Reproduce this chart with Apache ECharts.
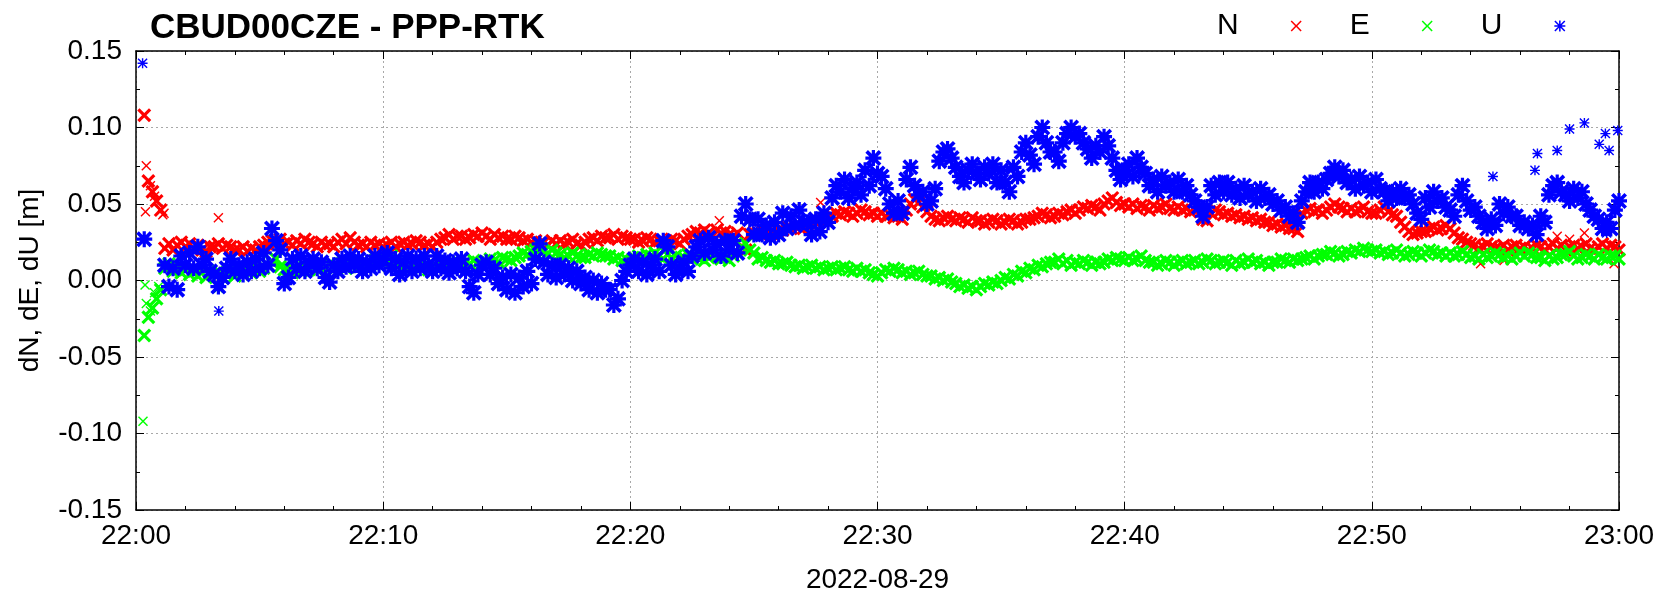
<!DOCTYPE html>
<html>
<head>
<meta charset="utf-8">
<title>CBUD00CZE - PPP-RTK</title>
<script src="https://cdn.jsdelivr.net/npm/echarts@6/dist/echarts.min.js"></script>
<style>
  html, body { margin: 0; padding: 0; background: #fff; }
  #chart { width: 1665px; height: 599px; }
</style>
</head>
<body>
<div id="chart"></div>
<script>
// epochs every 10 s after 22:00:00, offsets in mm (one row = one minute)
var stepSec = 10;
var tickLabels = ["22:00", "22:10", "22:20", "22:30", "22:40", "22:50", "23:00"];

var dN = [
  null, 108, 65, 58, 52, 46,   21, 24, 20, 23, 25, 22,   24, 21, 23, 20, 19, 22,
  22, 24, 21, 23, 22, 20,      20, 22, 19, 21, 20, 22,   23, 25, 26, 24, 27, 24,
  25, 23, 26, 24, 27, 25,      24, 22, 25, 23, 24, 22,   25, 27, 24, 28, 25, 23,
  24, 22, 25, 23, 24, 22,      23, 25, 22, 24, 25, 23,   24, 26, 25, 23, 24, 22,
  25, 27, 28, 30, 27, 29,      29, 27, 28, 30, 29, 31,   29, 27, 30, 28, 29, 27,
  27, 29, 28, 26, 27, 25,      26, 24, 25, 23, 26, 24,   26, 24, 25, 27, 24, 23,
  25, 27, 28, 26, 29, 28,      28, 30, 27, 29, 28, 27,   27, 25, 26, 28, 27, 25,
  26, 24, 25, 27, 26, 24,      27, 29, 30, 32, 31, 33,   31, 29, 33, 31, 32, 30,
  29, 31, 22, 20, 30, 31,      31, 33, 32, 30, 31, 33,   33, 35, 34, 36, 35, 34,
  36, 37, 38, 39, 40, 41,      42, 44, 43, 45, 44, 42,   44, 46, 45, 43, 44, 42,
  44, 42, 43, 41, 42, 40,      46, 50, 53, 51, 48, 45,   42, 40, 39, 41, 42, 40,
  39, 41, 40, 38, 41, 39,      39, 37, 38, 40, 39, 37,   38, 40, 39, 37, 38, 40,
  40, 41, 42, 44, 43, 41,      42, 44, 43, 45, 46, 44,   46, 48, 47, 49, 48, 46,
  50, 52, 54, 51, 49, 50,      48, 50, 47, 49, 48, 46,   49, 47, 48, 50, 47, 46,
  48, 46, 47, 45, 46, 47,      40, 39, 44, 46, 45, 43,   44, 42, 43, 41, 42, 40,
  41, 39, 40, 38, 38, 36,      37, 35, 36, 34, 34, 32,   44, 46, 47, 45, 46, 44,
  46, 48, 50, 48, 47, 45,      47, 45, 46, 48, 45, 44,   44, 46, 48, 45, 43, 42,
  38, 35, 32, 30, 31, 32,      32, 34, 35, 33, 34, 36,   34, 31, 28, 27, 25, 24,
  23, 21, 22, 24, 22, 21,      21, 23, 20, 22, 23, 21,   22, 20, 21, 23, 22, 20,
  22, 24, 21, 23, 20, 22,      23, 21, 22, 24, 21, 20,   22, 24, 21, 23, 22, 20
];
var dE = [
  null, -36, -24, -18, -12, -6, 8, 11, 6, 9, 5, 7,        4, 6, 3, 5, 2, 5,
  4, 6, 2, 4, 6, 3,            6, 4, 7, 5, 8, 6,          8, 10, 12, 14, 9, 7,
  7, 5, 8, 6, 9, 7,            9, 7, 10, 8, 11, 9,        9, 11, 8, 12, 10, 9,
  10, 12, 11, 13, 10, 12,      14, 16, 12, 11, 9, 10,     9, 11, 8, 10, 7, 9,
  9, 11, 10, 12, 11, 10,       10, 12, 11, 13, 12, 11,    12, 14, 13, 12, 15, 14,
  13, 15, 16, 18, 17, 19,      20, 21, 19, 18, 20, 18,    17, 15, 16, 18, 16, 15,
  15, 17, 16, 18, 17, 16,      16, 14, 15, 13, 14, 12,    14, 16, 15, 17, 16, 18,
  16, 14, 17, 15, 16, 14,      15, 17, 14, 16, 15, 13,    15, 17, 16, 14, 15, 13,
  16, 18, 22, 24, 20, 18,      14, 15, 13, 12, 13, 11,    11, 12, 10, 9, 10, 8,
  9, 10, 8, 9, 7, 8,           9, 7, 8, 9, 7, 6,          8, 6, 7, 5, 4, 3,
  5, 7, 6, 8, 7, 5,            6, 4, 5, 6, 4, 3,          3, 1, 2, 0, 1, -1,
  -2, -4, -3, -5, -4, -6,      -4, -2, -3, -1, -2, 0,     2, 1, 4, 3, 6, 5,
  8, 7, 10, 9, 11, 12,         12, 14, 11, 13, 10, 12,    11, 13, 12, 10, 12, 11,
  12, 14, 13, 15, 14, 13,      15, 13, 14, 16, 13, 12,    12, 10, 11, 13, 12, 10,
  12, 13, 11, 12, 13, 11,      12, 14, 13, 11, 12, 13,    12, 10, 13, 11, 12, 14,
  12, 13, 11, 12, 10, 12,      12, 14, 13, 12, 14, 13,    14, 15, 16, 14, 16, 17,
  17, 19, 18, 16, 17, 19,      18, 20, 19, 21, 20, 19,    20, 18, 19, 17, 18, 20,
  18, 16, 17, 19, 18, 16,      18, 20, 19, 17, 18, 16,    18, 16, 17, 19, 17, 15,
  16, 14, 17, 15, 16, 18,      17, 15, 16, 14, 16, 18,    16, 18, 17, 15, 15, 13,
  16, 14, 15, 17, 17, 19,      16, 14, 15, 17, 16, 14,    17, 15, 14, 16, 16, 14
];
var dU = [
  null, 27, null, null, null, null, 10, -4, 8, -6, 16, 10, 18, 8, 22, 10, 14, 6,
  4, -4, 2, 8, 14, 6,          10, 4, 12, 6, 14, 8,       18, 10, 34, 26, 20, -2,
  2, 14, 8, 16, 6, 12,         14, 8, 12, 2, -1, 10,      6, 14, 9, 16, 10, 14,
  6, 12, 8, 16, 10, 14,        18, 8, 14, 4, 12, 16,      6, 14, 8, 16, 10, 6,
  16, 8, 13, 5, 12, 8,         14, 6, -4, -8, 4, 10,      12, 4, 8, -2, 2, -6,
  4, -8, 2, -4, 6, -2,         14, 24, 12, 4, 10, 2,      10, 4, 8, 0, 6, -2,
  2, -6, 0, -8, -2, -6,        -6, -16, -12, 0, 6, 10,    14, 6, 12, 4, 10, 14,
  6, 26, 22, 10, 4, 8,         12, 6, 16, 22, 26, 18,     28, 20, 24, 16, 26, 20,
  26, 18, 42, 50, 40, 30,      40, 30, 36, 28, 38, 30,    44, 34, 42, 36, 46, 38,
  38, 30, 40, 32, 44, 38,      54, 62, 58, 66, 54, 60,    64, 56, 72, 62, 80, 70,
  68, 60, 50, 44, 52, 44,      66, 74, 62, 56, 58, 50,    52, 60, 78, 84, 86, 80,
  74, 68, 64, 72, 76, 70,      66, 74, 70, 76, 64, 72,    64, 58, 74, 68, 84, 90,
  82, 76, 94, 100, 90, 84,     84, 78, 90, 96, 100, 94,   96, 90, 86, 80, 88, 84,
  94, 88, 80, 72, 66, 72,      76, 68, 80, 74, 70, 62,    66, 58, 68, 62, 64, 58,
  66, 58, 62, 56, 52, 48,      42, 48, 62, 56, 64, 58,    64, 56, 60, 54, 62, 56,
  58, 52, 60, 54, 56, 50,      52, 46, 48, 42, 44, 38,    52, 58, 64, 58, 64, 60,
  66, 70, 74, 68, 72, 64,      66, 60, 68, 62, 64, 58,    66, 60, 58, 52, 58, 54,
  60, 54, 56, 50, 44, 40,      54, 48, 58, 52, 54, 48,    46, 42, 56, 62, 52, 46,
  48, 42, 38, 34, 40, 36,      50, 44, 48, 42, 42, 36,    38, 34, 36, 30, 42, 38,
  56, 62, 64, 58, 56, 52,      60, 54, 58, 50, 46, 42,    40, 34, 38, 34, 46, 52
];

// isolated epochs: [seconds after 22:00, mm]
var extraN = [[25, 75], [23, 45], [35, 62], [45, 55], [65, 43], [68, 44], [200, 41], [1416, 39],
  [1662, 51], [3264, 11], [3321, 13], [3396, 30], [3450, 29], [3480, 27], [3516, 31], [3570, 35], [3588, 11]];
var extraE = [[17, -92], [22, -3], [25, -15], [35, -20], [45, -8], [55, -4], [200, -5]];
var extraU = [[16, 142], [201, -20], [3294, 68], [3396, 72], [3402, 83], [3450, 85], [3480, 99],
  [3516, 103], [3552, 89], [3567, 96], [3576, 85], [3597, 98], [3570, 31]];

var CROSS = "path://M1,0L5,4L9,0L10,1L6,5L10,9L9,10L5,6L1,10L0,9L4,5L0,1Z";
var STAR = CROSS + "M4.3,0L5.7,0L5.7,4.3L10,4.3L10,5.7L5.7,5.7L5.7,10L4.3,10L4.3,5.7L0,5.7L0,4.3L4.3,4.3Z";
// heavier strokes for the densely packed epochs, where gnuplot's marks merge into a band
var CROSS_B = "path://M1.6,0L5,3.4L8.4,0L10,1.6L6.6,5L10,8.4L8.4,10L5,6.6L1.6,10L0,8.4L3.4,5L0,1.6Z";
var STAR_B = CROSS_B + "M4,0L6,0L6,4L10,4L10,6L6,6L6,10L4,10L4,6L0,6L0,4L4,4Z";
var FONT = "Liberation Sans, Arial, sans-serif";

function bandPoints(vals) {
  return vals.map(function (v, i) {
    return [(i + 1) * stepSec, v === null ? "-" : v / 1000];
  });
}
function extraPoints(extra) {
  return extra.map(function (p) { return [p[0], p[1] / 1000]; });
}

function makeSeries(name, symbol, size, color, data) {
  return {
    name: name,
    type: "scatter",
    symbol: symbol,
    symbolSize: size,
    silent: true,
    itemStyle: { color: color, opacity: 1 },
    data: data
  };
}

var chart = echarts.init(document.getElementById("chart"));
var gridLine = { show: true, lineStyle: { color: "#a8a8a8", type: [2, 3], width: 1 } };
var border = { show: true, onZero: false, lineStyle: { color: "#000", width: 1.5 } };
var ticks = { inside: true, length: 8, lineStyle: { color: "#000" } };

var option = {
  animation: false,
  backgroundColor: "#fff",
  textStyle: { fontFamily: FONT },
  title: {
    text: "CBUD00CZE - PPP-RTK",
    left: 145,
    top: 6,
    textStyle: { fontFamily: FONT, fontSize: 35, fontWeight: "bold", color: "#000" }
  },
  legend: {
    left: 1212,
    top: 6,
    align: "right",
    itemWidth: 11,
    itemHeight: 11,
    itemGap: 48,
    textStyle: { fontFamily: FONT, fontSize: 30, color: "#000", padding: [0, 47, 0, 0] },
    data: [
      { name: "N", icon: CROSS },
      { name: "E", icon: CROSS },
      { name: "U", icon: STAR }
    ]
  },
  grid: { left: 136, right: 46, top: 51, bottom: 89 },
  xAxis: [{
    type: "value",
    min: 0,
    max: 3600,
    interval: 600,
    name: "2022-08-29",
    nameLocation: "middle",
    nameGap: 56,
    nameTextStyle: { fontFamily: FONT, fontSize: 28, color: "#000" },
    axisLine: border,
    axisTick: ticks,
    minorTick: { show: true, splitNumber: 5, length: 4, lineStyle: { color: "#000" } },
    axisLabel: {
      margin: 12,
      fontFamily: FONT, fontSize: 28, color: "#000",
      formatter: function (v) { return tickLabels[Math.round(v / 600)]; }
    },
    splitLine: gridLine
  }, {
    type: "value",
    position: "top",
    min: 0,
    max: 3600,
    interval: 600,
    axisLine: border,
    axisTick: ticks,
    minorTick: { show: true, splitNumber: 5, length: 4, lineStyle: { color: "#000" } },
    axisLabel: { show: false },
    splitLine: { show: false }
  }],
  yAxis: [{
    type: "value",
    min: -0.15,
    max: 0.15,
    interval: 0.05,
    name: "dN, dE, dU [m]",
    nameLocation: "middle",
    nameGap: 92,
    nameTextStyle: { fontFamily: FONT, fontSize: 28, color: "#000" },
    axisLine: border,
    axisTick: ticks,
    minorTick: { show: true, splitNumber: 2, length: 4, lineStyle: { color: "#000" } },
    axisLabel: {
      margin: 14,
      fontFamily: FONT, fontSize: 28, color: "#000",
      formatter: function (v) { return v.toFixed(2); }
    },
    splitLine: gridLine
  }, {
    type: "value",
    position: "right",
    min: -0.15,
    max: 0.15,
    interval: 0.05,
    axisLine: border,
    axisTick: ticks,
    minorTick: { show: true, splitNumber: 2, length: 4, lineStyle: { color: "#000" } },
    axisLabel: { show: false },
    splitLine: { show: false }
  }],
  series: [
    makeSeries("N", CROSS_B, 14, "#ff0000", bandPoints(dN)),
    makeSeries("N", CROSS, 10, "#ff0000", extraPoints(extraN)),
    makeSeries("E", CROSS_B, 14, "#00ff00", bandPoints(dE)),
    makeSeries("E", CROSS, 10, "#00ff00", extraPoints(extraE)),
    makeSeries("U", STAR_B, 16, "#0000ff", bandPoints(dU)),
    makeSeries("U", STAR, 10, "#0000ff", extraPoints(extraU))
  ]
};

chart.setOption(option);
window.addEventListener("resize", function () { chart.resize(); });
</script>
</body>
</html>
